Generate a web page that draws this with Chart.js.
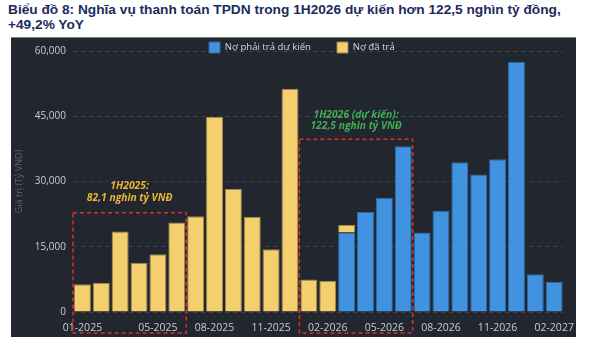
<!DOCTYPE html>
<html>
<head>
<meta charset="utf-8">
<script src="https://cdn.jsdelivr.net/npm/chart.js@4.4.1/dist/chart.umd.min.js"></script>
<style>
  html, body { margin: 0; padding: 0; background: #fff; width: 600px; height: 337px; overflow: hidden; }
  #title { position: absolute; left: 8px; top: 2px; width: 592px; font: bold 13.7px "Liberation Sans", Arial, sans-serif; color: #1c2b5c; line-height: 15px; white-space: nowrap; }
  #panel { position: absolute; left: 11px; top: 37px; width: 565px; height: 300px; background: #22262f; border-top: 1px solid #7a7e86; }
  #chart { display: block; }
</style>
</head>
<body>
<div id="title">Biểu đồ 8: Nghĩa vụ thanh toán TPDN trong 1H2026 dự kiến hơn 122,5 nghìn tỷ đồng,<br>+49,2% YoY</div>
<div id="panel"><canvas id="chart" width="565" height="299"></canvas></div>
<script>
  const months = [
    '01-2025', '02-2025', '03-2025', '04-2025', '05-2025', '06-2025',
    '07-2025', '08-2025', '09-2025', '10-2025', '11-2025', '12-2025',
    '01-2026', '02-2026', '03-2026', '04-2026', '05-2026', '06-2026',
    '07-2026', '08-2026', '09-2026', '10-2026', '11-2026', '12-2026',
    '01-2027', '02-2027'
  ];
  const shownTicks = ['01-2025', '05-2025', '08-2025', '11-2025', '02-2026', '05-2026', '08-2026', '11-2026', '02-2027'];

  // Nợ đã trả (yellow)
  const paidDebt = [
    6400, 6700, 18500, 11300, 13300, 20600,
    22000, 44800, 28300, 21900, 14400, 51300,
    7500, 7200, 1750, null, null, null,
    null, null, null, null, null, null,
    null, null
  ];
  // Nợ phải trả dự kiến (blue)
  const expectedDebt = [
    null, null, null, null, null, null,
    null, null, null, null, null, null,
    null, null, 18250, 23000, 26200, 38100,
    18250, 23300, 34400, 31600, 35100, 57500,
    8700, 6900
  ];

  const periodBoxes = [
    { from: '01-2025', to: '06-2025', top: 22800, color: '#e8b634', lines: ['1H2025:', '82,1 nghìn tỷ VNĐ'], textAt: [29000, 26300] },
    { from: '01-2026', to: '06-2026', top: 39700, color: '#3fae55', lines: ['1H2026 (dự kiến):', '122,5 nghìn tỷ VNĐ'], textAt: [45200, 42700] }
  ];

  const FONT = '"Open Sans", sans-serif';

  const boxPlugin = {
    id: 'boxPlugin',
    afterDraw(chart) {
      const { ctx, scales: { x, y } } = chart;
      const half = (x.getPixelForValue(1) - x.getPixelForValue(0)) / 2;
      periodBoxes.forEach(b => {
        const left = x.getPixelForValue(months.indexOf(b.from)) - half;
        const right = x.getPixelForValue(months.indexOf(b.to)) + half;
        const top = y.getPixelForValue(b.top);
        const bottom = x.bottom - 4;
        ctx.save();
        ctx.setLineDash([4, 3]);
        ctx.strokeStyle = '#d9302c';
        ctx.lineWidth = 1.5;
        ctx.strokeRect(left, top, right - left, bottom - top);
        ctx.setLineDash([]);
        ctx.fillStyle = b.color;
        ctx.font = 'italic bold 10.3px ' + FONT;
        ctx.textAlign = 'center';
        ctx.textBaseline = 'middle';
        b.lines.forEach((t, i) => ctx.fillText(t, (left + right) / 2, y.getPixelForValue(b.textAt[i])));
        ctx.restore();
      });
    }
  };

  // legend sits in one row over the top grid line, a bit left of centre
  const legendPlugin = {
    id: 'legendPlugin',
    beforeLayout(chart) {
      chart.legend.isHorizontal = () => true;
    },
    afterLayout(chart) {
      const lg = chart.legend;
      lg.left = 172;
      lg.right = lg.left + 400;
      lg.top = -22;
    }
  };

  new Chart(document.getElementById('chart'), {
    type: 'bar',
    data: {
      labels: months,
      datasets: [{
        label: 'Nợ phải trả dự kiến',
        data: expectedDebt,
        backgroundColor: '#4193e0',
        borderColor: '#2d6aa6',
        borderWidth: 1
      }, {
        label: 'Nợ đã trả',
        data: paidDebt,
        backgroundColor: '#f3cf6d',
        borderColor: '#9c8650',
        borderWidth: 1
      }]
    },
    options: {
      responsive: false,
      animation: false,
      layout: { padding: { left: 3, right: 6, top: 11, bottom: 0 } },
      datasets: { bar: { categoryPercentage: 1, barPercentage: 0.9 } },
      plugins: {
        legend: {
          position: 'chartArea',
          align: 'start',
          labels: {
            boxWidth: 11,
            boxHeight: 11,
            padding: 26,
            color: '#d5d8de',
            font: { family: FONT, size: 9.6 }
          }
        },
        tooltip: { enabled: false }
      },
      scales: {
        x: {
          stacked: true,
          grid: { display: false },
          border: { display: false },
          afterFit: s => { s.height = 25; },
          ticks: {
            autoSkip: false,
            maxRotation: 0,
            padding: 2,
            color: '#c9ccd3',
            font: { family: FONT, size: 10.5 },
            callback: (v, i) => shownTicks.includes(months[i]) ? months[i] : ''
          }
        },
        y: {
          stacked: true,
          min: 0,
          max: 60000,
          afterFit: s => { s.width = 59; },
          border: { display: false, dash: [4, 4] },
          grid: { color: '#3b404b', drawTicks: false },
          ticks: {
            stepSize: 15000,
            padding: 7,
            color: '#c9ccd3',
            font: { family: FONT, size: 10 },
            callback: v => v.toLocaleString('en-US')
          },
          title: {
            display: true,
            text: 'Giá trị (Tỷ VND)',
            color: '#5d6470',
            font: { family: FONT, size: 9 },
            padding: { top: 0, bottom: 4 }
          }
        }
      }
    },
    plugins: [boxPlugin, legendPlugin]
  });
</script>
</body>
</html>
